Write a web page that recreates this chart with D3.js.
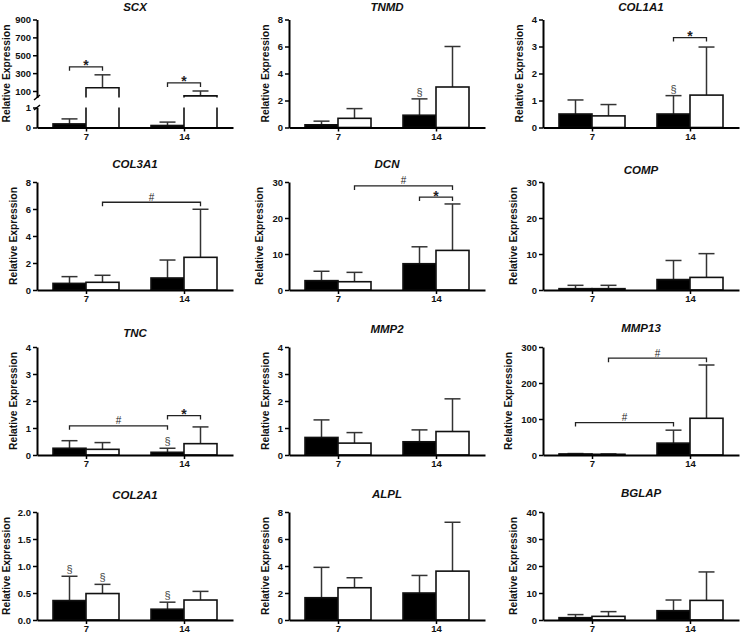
<!DOCTYPE html>
<html><head><meta charset="utf-8">
<script src="https://cdn.jsdelivr.net/npm/d3@7"></script>
<style>body{margin:0;background:#fff}svg{display:block}text{font-family:Arial,"Liberation Sans",sans-serif}</style>
</head><body><svg id="c" width="741" height="635"></svg>
<script>
// ---------- DATA ----------
const genes = ["SCX","TNMD","COL1A1","COL3A1","DCN","COMP","TNC","MMP2","MMP13","COL2A1","ALPL","BGLAP"];
const days = ["7","14"];
// filled (black) bars: mean at day 7, day 14
const blackMean  = [[0.18,0.1],[0.2,0.91],[0.5,0.5],[0.49,0.89],[2.6,7.3],[0.37,2.9],[0.25,0.1],[0.65,0.49],[3,33],[0.36,0.2],[1.65,2.0],[0.86,3.45]];
// top of error bar (mean + SD)
const blackUpper = [[0.43,0.27],[0.47,2.12],[1.02,1.18],[0.99,2.22],[5.2,12.0],[1.3,8.2],[0.53,0.25],[1.3,0.93],[4,69],[0.81,0.33],[3.9,3.3],[2.0,7.4]];
// open (white) bars
const whiteMean  = [[137,45],[0.68,3.0],[0.43,1.2],[0.57,2.42],[2.3,11.0],[0.37,3.5],[0.21,0.42],[0.44,0.87],[2,102],[0.49,0.37],[2.39,3.62],[1.35,7.26]];
const whiteUpper = [[281,100],[1.4,6.0],[0.85,2.98],[1.09,5.98],[4.9,23.9],[1.3,10.1],[0.46,1.04],[0.83,2.08],[3,250],[0.66,0.53],[3.13,7.24],[3.1,17.8]];
const yMax = [900,8,4,8,30,30,4,4,300,2,8,40];
const yTicks = [[0,1,100,300,500,700,900],[0,2,4,6,8],[0,1,2,3,4],[0,2,4,6,8],[0,10,20,30],[0,10,20,30],[0,1,2,3,4],[0,1,2,3,4],[0,100,200,300],[0,0.5,1,1.5,2],[0,2,4,6,8],[0,10,20,30,40]];
const yTickFormat = ["d","d","d","d","d","d","d","d","d",".1f","d","d"];
const yLabel = "Relative Expression";
// significance brackets: gene, [day, series] from, [day, series] to, height (data units), symbol
const bracketGene = ["SCX","SCX","COL1A1","COL3A1","DCN","DCN","TNC","TNC","MMP13","MMP13"];
const bracketFrom = [[0,0],[1,0],[1,0],[0,1],[0,1],[1,0],[0,0],[1,0],[0,0],[0,1]];
const bracketTo   = [[0,1],[1,1],[1,1],[1,1],[1,1],[1,1],[1,0],[1,1],[1,0],[1,1]];
const bracketY    = [370,190,3.33,6.5,28.9,25.8,1.08,1.46,90,269];
const bracketSym  = ["*","*","*","#","#","*","#","*","#","#"];
// section marks (§): gene, day, series
const secGene = ["TNMD","COL1A1","TNC","COL2A1","COL2A1","COL2A1"];
const secDay  = [1,1,1,0,0,1];
const secSer  = [0,0,0,0,1,0];

// ---------- LAYOUT ----------
const colX0 = [37,289,543];
const rowBase = [127.5,290,455,620];
const rowTop = [19.5,182,347,512];
const titleY = [11,11,11,168,168,174,337,333,332,499,498,497];
const plotW = 196, barW = 33, capW = 16;

const svg = d3.select("#c");

genes.forEach((gene, gi) => {
  const col = gi % 3, row = Math.floor(gi / 3);
  const X0 = colX0[col], base = rowBase[row], top = rowTop[row];
  const g = svg.append("g");
  const x = d3.scalePoint().domain(days).range([X0, X0 + plotW]).padding(0.5);
  const broken = gene === "SCX";
  let y, yLo, yHi;
  if (broken) {
    yLo = d3.scaleLinear().domain([0,1]).range([base, base - 20]);
    const tmp = d3.scaleLinear().domain([100,900]).range([base - 36.5, top]);
    yHi = d3.scaleLinear().domain([tmp.invert(base - 30), 900]).range([base - 30, top]);
    y = v => v <= 1 ? yLo(v) : yHi(v);
  } else {
    y = d3.scaleLinear().domain([0, yMax[gi]]).range([base, top]);
  }
  const fmt = d3.format(yTickFormat[gi]);

  const series = [
    {mean: blackMean[gi], up: blackUpper[gi], fill: "#000", off: -barW},
    {mean: whiteMean[gi], up: whiteUpper[gi], fill: "#fff", off: 0}
  ];
  const barCenter = (d, s) => x(days[d]) + series[s].off + barW / 2;

  // error bars
  series.forEach((s, si) => {
    days.forEach((day, di) => {
      const cx = barCenter(di, si);
      g.append("line").attr("x1", cx).attr("x2", cx)
        .attr("y1", y(s.mean[di])).attr("y2", y(s.up[di]))
        .attr("stroke", "#333").attr("stroke-width", 1.5);
      g.append("line").attr("x1", cx - capW / 2).attr("x2", cx + capW / 2)
        .attr("y1", y(s.up[di])).attr("y2", y(s.up[di]))
        .attr("stroke", "#333").attr("stroke-width", 1.5);
    });
  });
  // bars
  series.forEach((s, si) => {
    days.forEach((day, di) => {
      const bx = x(day) + s.off, v = s.mean[di];
      if (broken && v > 1) {
        g.append("rect").attr("x", bx).attr("width", barW)
          .attr("y", yLo(1)).attr("height", base - yLo(1)).attr("fill", s.fill);
        g.append("path").attr("d", `M${bx},${base}V${yLo(1)}M${bx + barW},${yLo(1)}V${base}`)
          .attr("fill", "none").attr("stroke", "#111").attr("stroke-width", 1.6);
        g.append("path").attr("d", `M${bx},${base - 30}V${yHi(v)}H${bx + barW}V${base - 30}`)
          .attr("fill", s.fill).attr("stroke", "#111").attr("stroke-width", 1.6);
      } else {
        g.append("rect").attr("x", bx).attr("width", barW)
          .attr("y", y(v)).attr("height", base - y(v))
          .attr("fill", s.fill).attr("stroke", "#111").attr("stroke-width", 1.6);
      }
    });
  });

  // axes
  const styleAxis = sel => {
    sel.select(".domain").attr("stroke", "#000").attr("stroke-width", 2);
    sel.selectAll(".tick line").attr("stroke", "#000").attr("stroke-width", 1.5);
    sel.selectAll(".tick text").attr("font-size", 9.5).attr("font-weight", "bold").attr("fill", "#111")
      .attr("font-family", "Arial, 'Liberation Sans', sans-serif");
  };
  const yAxes = [];
  if (broken) {
    yAxes.push(g.append("g").attr("transform", `translate(${X0},0)`)
      .call(d3.axisLeft(yLo).tickValues([0,1]).tickFormat(fmt).tickSize(4).tickSizeOuter(0).tickPadding(2)).call(styleAxis));
    yAxes.push(g.append("g").attr("transform", `translate(${X0},0)`)
      .call(d3.axisLeft(yHi).tickValues(yTicks[gi].filter(t => t > 1)).tickFormat(fmt).tickSize(4).tickSizeOuter(0).tickPadding(2)).call(styleAxis));
    // break marks
    [base - 30, base - 20].forEach(yy => {
      g.append("line").attr("x1", X0 - 3).attr("x2", X0 + 3).attr("y1", yy + 2.5).attr("y2", yy - 2.5)
        .attr("stroke", "#000").attr("stroke-width", 1.5);
    });
  } else {
    const ax = d3.axisLeft(y).tickValues(yTicks[gi]).tickFormat(fmt).tickSize(4).tickSizeOuter(0).tickPadding(2);
    yAxes.push(g.append("g").attr("transform", `translate(${X0},0)`).call(ax).call(styleAxis));
  }
  g.append("g").attr("transform", `translate(0,${base})`)
    .call(d3.axisBottom(x).tickSize(4).tickSizeOuter(0).tickPadding(2)).call(styleAxis)
    .selectAll(".tick text").attr("dy", "0.66em");

  // y label
  let minX = X0;
  yAxes.forEach(a => a.selectAll(".tick text").each(function () {
    const b = this.getBBox(); minX = Math.min(minX, X0 + b.x);
  }));
  g.append("text").attr("transform", `translate(${Math.max(10, minX - 9)},${(base + top) / 2}) rotate(-90)`)
    .attr("text-anchor", "middle").attr("font-size", 10.3).attr("font-weight", "bold").attr("fill", "#111")
    .text(yLabel);
  // title
  g.append("text").attr("x", X0 + plotW / 2).attr("y", titleY[gi]).attr("text-anchor", "middle")
    .attr("font-size", 11.5).attr("font-weight", "bold").attr("font-style", "italic").attr("fill", "#111")
    .text(gene);

  // brackets
  bracketGene.forEach((bg, bi) => {
    if (bg !== gene) return;
    const x1 = barCenter(bracketFrom[bi][0], bracketFrom[bi][1]);
    const x2 = barCenter(bracketTo[bi][0], bracketTo[bi][1]);
    const yy = y(bracketY[bi]);
    g.append("path").attr("d", `M${x1},${yy + 4}V${yy}H${x2}V${yy + 4}`)
      .attr("fill", "none").attr("stroke", "#222").attr("stroke-width", 1.3);
    const star = bracketSym[bi] === "*";
    g.append("text").attr("x", (x1 + x2) / 2).attr("y", star ? yy + 3.5 : yy - 1.5)
      .attr("text-anchor", "middle").attr("font-size", star ? 14 : 10)
      .attr("font-weight", star ? "bold" : "normal").attr("fill", "#222").text(bracketSym[bi]);
  });
  // section marks
  secGene.forEach((sg, k) => {
    if (sg !== gene) return;
    const s = series[secSer[k]];
    g.append("text").attr("x", barCenter(secDay[k], secSer[k])).attr("y", y(s.up[secDay[k]]) - 3)
      .attr("text-anchor", "middle").attr("font-size", 11).attr("fill", "#444").text("§");
  });
});
</script></body></html>
